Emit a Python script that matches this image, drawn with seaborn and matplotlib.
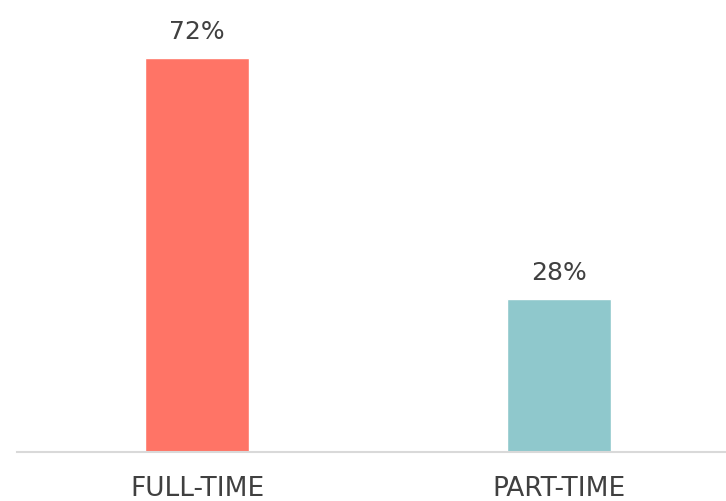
import matplotlib.pyplot as plt
import pandas as pd
import seaborn as sns

# Chart data
categories = ["FULL-TIME", "PART-TIME"]
shares = [72, 28]
bar_colors = ["#FF7466", "#8FC8CC"]

df = pd.DataFrame({"category": categories, "share": shares})

sns.set_theme(style="white")
plt.rcParams["font.family"] = ["DejaVu Sans"]

fig = plt.figure(figsize=(7.26, 5.01), dpi=100)
ax = fig.add_axes([17 / 726, 49 / 501, 709 / 726, 452 / 501])

sns.barplot(
    data=df,
    x="category",
    y="share",
    hue="category",
    palette=bar_colors,
    saturation=1,
    width=0.287,
    legend=False,
    ax=ax,
)

# Percentage labels above the bars
for container in ax.containers:
    ax.bar_label(
        container,
        labels=[f"{v:.0f}%" for v in container.datavalues],
        padding=10,
        fontsize=18,
        color="#404040",
    )

ax.set_xlim(-0.497, 1.461)
ax.set_ylim(0, 82.6)
ax.set_xlabel("")
ax.set_ylabel("")
ax.set_yticks([])

# Only a light baseline
for side in ["top", "left", "right"]:
    ax.spines[side].set_visible(False)
ax.spines["bottom"].set_color("#D9D9D9")
ax.spines["bottom"].set_linewidth(1.5)

ax.tick_params(axis="x", length=0, pad=17, labelsize=19, labelcolor="#404040")

fig.savefig("out.png", dpi=100)
plt.close(fig)
